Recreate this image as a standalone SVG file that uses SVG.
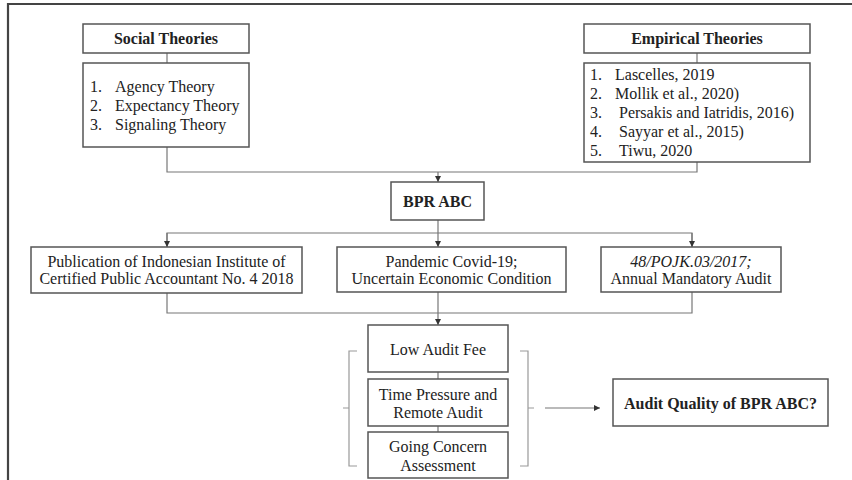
<svg xmlns="http://www.w3.org/2000/svg" width="852" height="480" viewBox="0 0 852 480">
<style>
.box{fill:#fff;stroke:#555;stroke-width:1.5}
.ln{fill:none;stroke:#777;stroke-width:1.2}
.br{fill:none;stroke:#999;stroke-width:1.2}
text{font-size:16px;fill:#222}
.b{font-weight:bold}
.c{text-anchor:middle}
</style>
<defs>
<marker id="ah" viewBox="0 0 6 6" refX="6" refY="3" markerWidth="6" markerHeight="6" markerUnits="userSpaceOnUse" orient="auto">
<path d="M0,0 L6,3 L0,6 z" fill="#333"/>
</marker>
</defs>
<rect width="852" height="480" fill="#fff"/>
<path d="M8,480 V4 H852" fill="none" stroke="#444" stroke-width="2.2"/>
<g id="connectors">
<path class="ln" d="M167,53 V63"/>
<path class="ln" d="M697,53 V63"/>
<path class="ln" d="M167,147 V172 H697 V162"/>
<path class="ln" d="M438,172 V182" marker-end="url(#ah)"/>
<path class="ln" d="M438,220 V233"/>
<path class="ln" d="M167,247 V233 H692 V247"/>
<path class="ln" d="M167,233 V247" marker-end="url(#ah)"/>
<path class="ln" d="M438,233 V247" marker-end="url(#ah)"/>
<path class="ln" d="M692,233 V247" marker-end="url(#ah)"/>
<path class="ln" d="M167,293 V313 H692 V292"/>
<path class="ln" d="M438,292 V313"/>
<path class="ln" d="M438,313 V325" marker-end="url(#ah)"/>
<path class="ln" d="M438,372 V379"/>
<path class="ln" d="M438,426 V432"/>
<path class="br" d="M357,351 H349 V466 H357 M349,408 H343"/>
<path class="br" d="M520,351 H528 V466 H520 M528,408 H534"/>
<path class="ln" d="M545,408 H600" marker-end="url(#ah)"/>
</g>
<g font-family="'Liberation Serif', 'DejaVu Serif', serif">
<g id="social">
<rect class="box" x="83" y="24" width="166" height="29"/>
<text class="b c" x="166" y="44">Social Theories</text>
</g>
<g id="social-list">
<rect class="box" x="83" y="63" width="166" height="84"/>
<text x="90" y="92">1.</text><text x="115" y="92">Agency Theory</text>
<text x="90" y="111">2.</text><text x="115" y="111">Expectancy Theory</text>
<text x="90" y="130">3.</text><text x="115" y="130">Signaling Theory</text>
</g>
<g id="empirical">
<rect class="box" x="584" y="24" width="226" height="29"/>
<text class="b c" x="697" y="44">Empirical Theories</text>
</g>
<g id="empirical-list">
<rect class="box" x="584" y="63" width="226" height="99"/>
<text x="590" y="80">1.</text><text x="615" y="80">Lascelles, 2019</text>
<text x="590" y="99">2.</text><text x="615" y="99">Mollik et al., 2020)</text>
<text x="590" y="118">3.</text><text x="619" y="118">Persakis and Iatridis, 2016)</text>
<text x="590" y="137">4.</text><text x="619" y="137">Sayyar et al., 2015)</text>
<text x="590" y="156">5.</text><text x="619" y="156">Tiwu, 2020</text>
</g>
<g id="bpr">
<rect class="box" x="391" y="182" width="93" height="38"/>
<text class="b c" x="437.5" y="207">BPR ABC</text>
</g>
<g id="iapi">
<rect class="box" x="31" y="247" width="271" height="46"/>
<text class="c" x="166.5" y="267">Publication of Indonesian Institute of</text>
<text class="c" x="166.5" y="284">Certified Public Accountant No. 4 2018</text>
</g>
<g id="pandemic">
<rect class="box" x="337" y="247" width="229" height="45"/>
<text class="c" x="451.5" y="267">Pandemic Covid-19;</text>
<text class="c" x="451.5" y="284">Uncertain Economic Condition</text>
</g>
<g id="pojk">
<rect class="box" x="601" y="247" width="180" height="45"/>
<text class="c" x="691" y="267" font-style="italic">48/POJK.03/2017;</text>
<text class="c" x="691" y="284">Annual Mandatory Audit</text>
</g>
<g id="fee">
<rect class="box" x="368" y="325" width="140" height="47"/>
<text class="c" x="438" y="355">Low Audit Fee</text>
</g>
<g id="time">
<rect class="box" x="368" y="379" width="140" height="47"/>
<text class="c" x="438" y="400">Time Pressure and</text>
<text class="c" x="438" y="418">Remote Audit</text>
</g>
<g id="going">
<rect class="box" x="368" y="432" width="140" height="46"/>
<text class="c" x="438" y="452">Going Concern</text>
<text class="c" x="438" y="471">Assessment</text>
</g>
<g id="quality">
<rect class="box" x="613" y="379" width="215" height="47"/>
<text class="b c" x="720.5" y="409">Audit Quality of BPR ABC?</text>
</g>
</g>
</svg>
